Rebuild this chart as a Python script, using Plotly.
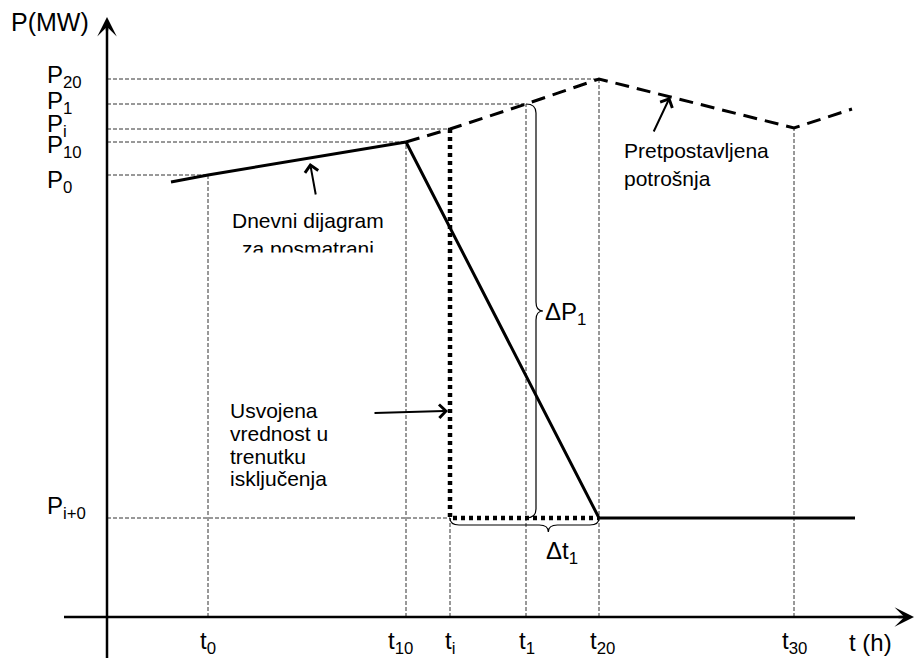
import plotly.graph_objects as go

# ---------------- data (time / power in arbitrary units, origin at axes crossing) ----------------
t_labels = ["t<sub>0</sub>", "t<sub>10</sub>", "t<sub>i</sub>", "t<sub>1</sub>", "t<sub>20</sub>", "t<sub>30</sub>"]
t_vals = [101, 299, 343, 419, 492, 687]
p_labels = ["P<sub>20</sub>", "P<sub>1</sub>", "P<sub>i</sub>", "P<sub>10</sub>", "P<sub>0</sub>", "P<sub>i+0</sub>"]
p_vals = [538, 513, 488, 475, 442, 99]

# daily diagram (solid)
daily_t = [64, 101, 299]
daily_p = [435, 442, 475]
# real load after the outage (solid)
drop_t = [299, 492, 748]
drop_p = [475, 99, 99]
# assumed consumption (dashed)
assumed_t = [299, 343, 419, 492, 687, 745]
assumed_p = [475, 488, 513, 538, 489, 508]
# adopted value at the moment of disconnection (dotted)
adopted_t = [343, 343, 492]
adopted_p = [488, 99, 99]

# guide lines: horizontal (P level up to t) and vertical (t up to P level)
h_guides_p = [538, 513, 488, 475, 442, 99]
h_guides_t = [492, 419, 343, 299, 101, 343]
v_guides_t = [101, 299, 343, 419, 492, 687]
v_guides_p = [442, 475, 99, 513, 538, 489]

FONT = "Liberation Sans, Arial, sans-serif"
GUIDE = "#333333"

fig = go.Figure()

# guides
gx, gy = [], []
for p, t in zip(h_guides_p, h_guides_t):
    gx += [0, t, None]
    gy += [p, p, None]
for t, p in zip(v_guides_t, v_guides_p):
    gx += [t, t, None]
    gy += [0, p, None]
fig.add_trace(go.Scatter(x=gx, y=gy, mode="lines", hoverinfo="skip",
                         line=dict(color=GUIDE, width=1, dash="4px,2px")))

# curves
fig.add_trace(go.Scatter(x=daily_t, y=daily_p, mode="lines", line=dict(color="black", width=3)))
fig.add_trace(go.Scatter(x=drop_t, y=drop_p, mode="lines", line=dict(color="black", width=3)))
fig.add_trace(go.Scatter(x=assumed_t, y=assumed_p, mode="lines",
                         line=dict(color="black", width=3, dash="14px,8px")))
fig.add_trace(go.Scatter(x=adopted_t, y=adopted_p, mode="lines",
                         line=dict(color="black", width=4.5, dash="4px,4px")))

# axes lines
fig.add_trace(go.Scatter(x=[-43, 798], y=[0, 0], mode="lines", line=dict(color="black", width=2.5)))
fig.add_trace(go.Scatter(x=[0, 0], y=[-41, 592], mode="lines", line=dict(color="black", width=2.5)))

# clipped label (second line of daily diagram text)
fig.add_trace(go.Scatter(x=[201], y=[366], mode="text", text=["za posmatrani"],
                         textposition="middle center",
                         textfont=dict(family=FONT, size=21, color="black")))


# braces
def vbrace(x0, ytop, ybot, d=10, tip=17, r=9):
    ym = (ytop + ybot) / 2
    return (f"M{x0},{ytop} Q{x0+d},{ytop} {x0+d},{ytop-r} L{x0+d},{ym+r} "
            f"Q{x0+d},{ym} {x0+tip},{ym} Q{x0+d},{ym} {x0+d},{ym-r} "
            f"L{x0+d},{ybot+r} Q{x0+d},{ybot} {x0},{ybot}")


def hbrace(y0, xl, xr, frac=0.66, d=7, tip=14, r=9):
    xm = xl + frac * (xr - xl)
    return (f"M{xl},{y0} Q{xl},{y0-d} {xl+r},{y0-d} L{xm-r},{y0-d} "
            f"Q{xm},{y0-d} {xm},{y0-tip} Q{xm},{y0-d} {xm+r},{y0-d} "
            f"L{xr-r},{y0-d} Q{xr},{y0-d} {xr},{y0}")


shapes = [
    dict(type="path", path=vbrace(t_vals[3], p_vals[1], p_vals[5]), xref="x", yref="y",
         line=dict(color="black", width=1.2)),
    dict(type="path", path=hbrace(p_vals[5], t_vals[2], t_vals[4]), xref="x", yref="y",
         line=dict(color="black", width=1.2)),
    # white mask clipping the descenders of the second text line
    dict(type="rect", xref="x", yref="y", x0=126, x1=276, y0=350, y1=364.5,
         fillcolor="white", line=dict(width=0), layer="above"),
]

ann = []
# axis arrows
ann.append(dict(x=807, y=0, ax=790, ay=0, axref="x", ayref="y", xref="x", yref="y", text="",
                showarrow=True, arrowhead=3, arrowsize=1.3, arrowwidth=2.5, arrowcolor="black"))
ann.append(dict(x=0, y=600, ax=0, ay=585, axref="x", ayref="y", xref="x", yref="y", text="",
                showarrow=True, arrowhead=3, arrowsize=1.3, arrowwidth=2.5, arrowcolor="black"))

# axis titles
ann.append(dict(x=-57, y=595, text="P(MW)", showarrow=False, xref="x", yref="y",
                font=dict(family=FONT, size=25, color="black")))
ann.append(dict(x=763, y=-25, text="t (h)", showarrow=False, xref="x", yref="y",
                font=dict(family=FONT, size=24, color="black")))

# P labels
p_label_dy = [3, 2, 4, -4, -6, 11]
for lab, p, dy in zip(p_labels, p_vals, p_label_dy):
    ann.append(dict(x=-62, y=p + dy, text=lab, showarrow=False, xanchor="left", yanchor="middle",
                    xref="x", yref="y", font=dict(family=FONT, size=24, color="black")))
# t labels
t_label_dx = [0, -6, 0, 1, 3, 0]
for lab, t, dx in zip(t_labels, t_vals, t_label_dx):
    ann.append(dict(x=t + dx, y=-25, text=lab, showarrow=False, xanchor="center", yanchor="middle",
                    xref="x", yref="y", font=dict(family=FONT, size=24, color="black")))

# brace labels
ann.append(dict(x=436, y=304, text="ΔP<sub>1</sub>", showarrow=False, xanchor="left",
                xref="x", yref="y", font=dict(family=FONT, size=24, color="black")))
ann.append(dict(x=455, y=65, text="Δt<sub>1</sub>", showarrow=False, xanchor="center",
                xref="x", yref="y", font=dict(family=FONT, size=24, color="black")))

# descriptive texts
def txt(x, y, s, anchor="center"):
    return dict(x=x, y=y, text=s, showarrow=False, xanchor=anchor, yanchor="middle",
                xref="x", yref="y", font=dict(family=FONT, size=21, color="black"))

ann.append(txt(201, 397, "Dnevni dijagram"))
ann.append(txt(515, 467, "Pretpostavljena", "left"))
ann.append(txt(515, 439, "potrošnja", "left"))
for s, y in zip(["Usvojena", "vrednost u", "trenutku", "isključenja"], [207, 184, 161, 139]):
    ann.append(txt(121, y, s, "left"))

# pointer arrows
def ptr(x, y, ax, ay):
    return dict(x=x, y=y, ax=ax, ay=ay, axref="x", ayref="y", xref="x", yref="y", text="",
                showarrow=True, arrowhead=4, arrowsize=1.3, arrowwidth=2, arrowcolor="black")

ann.append(ptr(203, 454, 209, 421))
ann.append(ptr(563, 520, 546, 484))
ann.append(ptr(341, 206, 266, 204))

fig.update_layout(
    width=914, height=658, margin=dict(l=0, r=0, t=0, b=0),
    paper_bgcolor="white", plot_bgcolor="white", showlegend=False,
    xaxis=dict(range=[-107, 807], visible=False, fixedrange=True),
    yaxis=dict(range=[-41, 617], visible=False, fixedrange=True),
    shapes=shapes, annotations=ann,
)

fig.write_html("out.html", config={"displayModeBar": False},
               post_script="document.body.style.margin='0px';")
